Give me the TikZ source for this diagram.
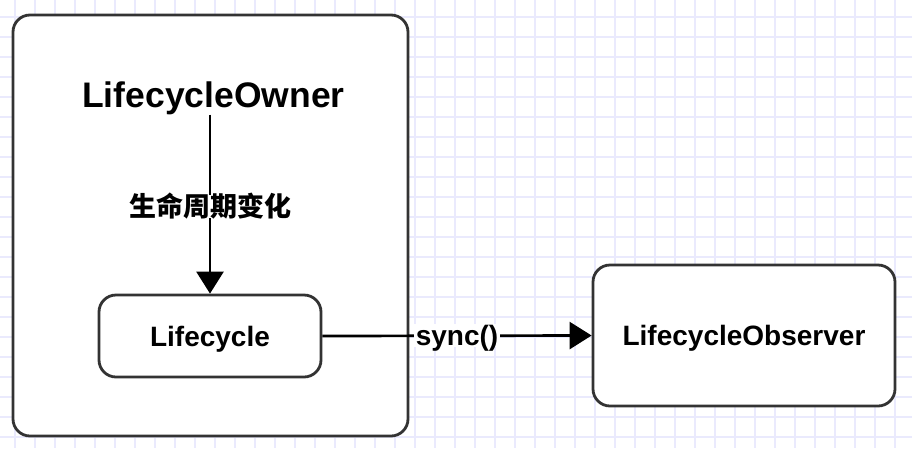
\documentclass[tikz,border=0pt]{standalone}
\usepackage{fontspec}
\setmainfont{Liberation Sans}
\newfontfamily\cjk{Noto Sans CJK SC}
\usetikzlibrary{arrows.meta}
\definecolor{gridc}{RGB}{234,234,253}
\definecolor{boxc}{RGB}{51,51,51}
\tikzset{
  box/.style={draw=boxc, line width=2.8pt, fill=white, rounded corners=17pt,
    font=\fontsize{28}{30}\selectfont\bfseries, text height=20pt, text depth=0pt,
    inner sep=0pt},
  conn/.style={draw=black, line width=2.7pt,
    -{Triangle[length=22pt,width=27pt]}},
  lab/.style={fill=white, inner sep=1.5pt, font=\fontsize{28}{30}\selectfont\bfseries,
    text height=20pt, text depth=0pt},
}
\begin{document}
\begin{tikzpicture}[x=1pt,y=-1pt]
\useasboundingbox (0,0) rectangle (912,448);
\fill[white] (0,0) rectangle (912,448);
\foreach \x in {15,35,...,912} \draw[gridc, line width=1.3pt] (\x,0) -- (\x,448);
\foreach \y in {17,37,...,448} \draw[gridc, line width=1.3pt] (0,\y) -- (912,\y);
\node[box, minimum width=395pt, minimum height=421pt] (ownerbox) at (210.5,225.5) {};
\node[font=\fontsize{35.5}{38}\selectfont\bfseries, inner sep=0pt, anchor=base] (owner) at (213.5,107) {LifecycleOwner};
\node[box, minimum width=222pt, minimum height=82pt] (life) at (210,336) {Lifecycle};
\node[box, minimum width=302pt, minimum height=141pt] (obs) at (744,335.5) {LifecycleObserver};
\draw[conn] (owner.south -| life.north) -- node[lab, yshift=-2pt, font=\fontsize{27}{30}\selectfont\cjk\bfseries] (chg) {生命周期变化} (life.north);
\draw[conn] (life.east) -- node[lab] (sync) {sync()} (obs.west);
\end{tikzpicture}
\end{document}
